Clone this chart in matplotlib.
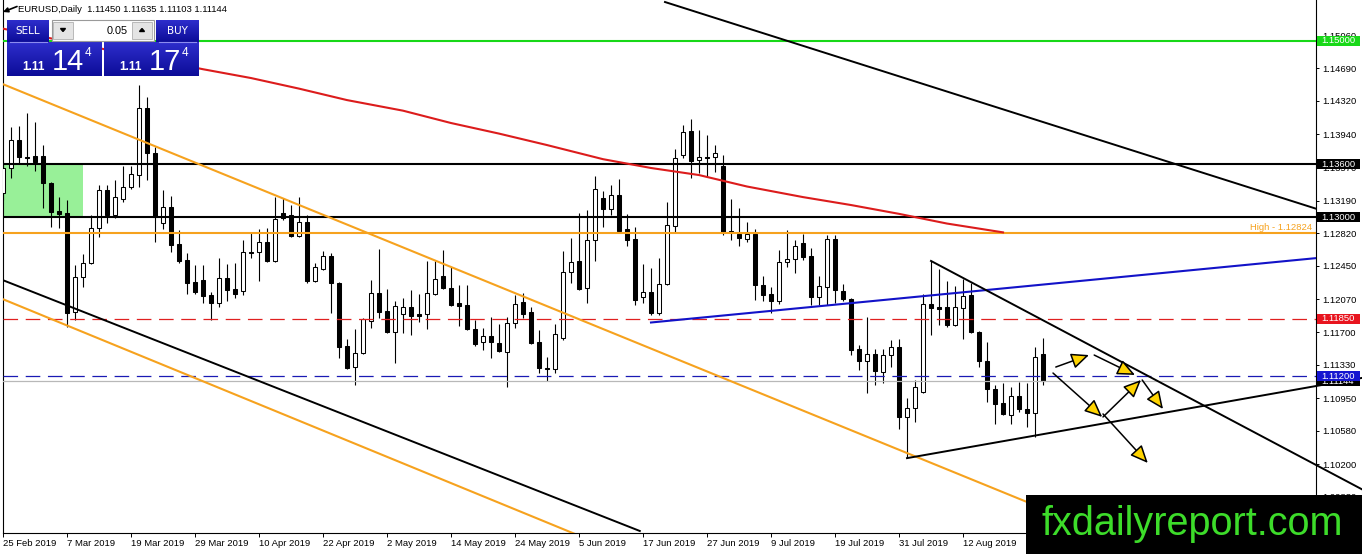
import matplotlib
matplotlib.use('Agg')
import matplotlib.pyplot as plt
from matplotlib.patches import Rectangle, Polygon, FancyArrowPatch
from matplotlib.colors import LinearSegmentedColormap
import numpy as np

plt.rcParams['lines.scale_dashes'] = False
plt.rcParams['font.family'] = ['Liberation Sans', 'DejaVu Sans']

# ---------------- data ----------------
symbol = 'EURUSD,Daily'
date_ticks = [0, 8, 16, 24, 32, 40, 48, 56, 64, 72, 80, 88, 96, 104, 112, 120]
date_labels = ['25 Feb 2019', '7 Mar 2019', '19 Mar 2019', '29 Mar 2019', '10 Apr 2019',
               '22 Apr 2019', '2 May 2019', '14 May 2019', '24 May 2019', '5 Jun 2019',
               '17 Jun 2019', '27 Jun 2019', '9 Jul 2019', '19 Jul 2019', '31 Jul 2019',
               '12 Aug 2019']

opens = [1.1328, 1.1356, 1.1388, 1.1368, 1.1370, 1.1370, 1.1339, 1.1307, 1.1305, 1.1193,
         1.1232, 1.1248, 1.1288, 1.1331, 1.1303, 1.1321, 1.1335, 1.1348, 1.1424, 1.1373,
         1.1294, 1.1312, 1.1270, 1.1252, 1.1227, 1.1229, 1.1212, 1.1203, 1.1231, 1.1219,
         1.1217, 1.1261, 1.1261, 1.1272, 1.1251, 1.1305, 1.1303, 1.1279, 1.1295, 1.1228,
         1.1242, 1.1256, 1.1226, 1.1154, 1.1130, 1.1146, 1.1182, 1.1214, 1.1194, 1.1170,
         1.1190, 1.1198, 1.1190, 1.1190, 1.1213, 1.1233, 1.1220, 1.1203, 1.1201, 1.1173,
         1.1159, 1.1166, 1.1157, 1.1147, 1.1180, 1.1204, 1.1193, 1.1159, 1.1129, 1.1128,
         1.1163, 1.1238, 1.1251, 1.1220, 1.1274, 1.1322, 1.1310, 1.1325, 1.1287, 1.1276,
         1.1210, 1.1215, 1.1192, 1.1224, 1.1290, 1.1371, 1.1398, 1.1365, 1.1368, 1.1368,
         1.1358, 1.1285, 1.1281, 1.1276, 1.1281, 1.1223, 1.1213, 1.1205, 1.1249, 1.1253,
         1.1271, 1.1256, 1.1210, 1.1221, 1.1276, 1.1217, 1.1207, 1.1151, 1.1137, 1.1145,
         1.1125, 1.1144, 1.1153, 1.1074, 1.1084, 1.1102, 1.1202, 1.1198, 1.1198, 1.1178,
         1.1197, 1.1212, 1.1170, 1.1137, 1.1105, 1.1090, 1.1076, 1.1097, 1.1083, 1.1078,
         1.11450]
highs = [1.1365, 1.1403, 1.1404, 1.1418, 1.1408, 1.1382, 1.1340, 1.1323, 1.1320, 1.1246,
         1.1259, 1.1303, 1.1337, 1.1337, 1.1342, 1.1358, 1.1358, 1.1450, 1.1437, 1.1380,
         1.1331, 1.1324, 1.1286, 1.1260, 1.1246, 1.1246, 1.1215, 1.1254, 1.1247, 1.1248,
         1.1274, 1.1282, 1.1287, 1.1288, 1.1323, 1.1322, 1.1314, 1.1323, 1.1303, 1.1248,
         1.1262, 1.1260, 1.1227, 1.1162, 1.1173, 1.1186, 1.1229, 1.1264, 1.1219, 1.1205,
         1.1209, 1.1218, 1.1213, 1.1251, 1.1251, 1.1263, 1.1244, 1.1223, 1.1223, 1.1184,
         1.1175, 1.1187, 1.1179, 1.1187, 1.1212, 1.1214, 1.1198, 1.1172, 1.1142, 1.1179,
         1.1262, 1.1277, 1.1305, 1.1308, 1.1347, 1.1330, 1.1337, 1.1344, 1.1304, 1.1289,
         1.1247, 1.1243, 1.1254, 1.1317, 1.1378, 1.1405, 1.1412, 1.1399, 1.1393, 1.1382,
         1.1371, 1.1321, 1.1311, 1.1295, 1.1287, 1.1233, 1.1221, 1.1263, 1.1286, 1.1274,
         1.1281, 1.1265, 1.1233, 1.1280, 1.1280, 1.1224, 1.1209, 1.1155, 1.1187, 1.1151,
         1.1151, 1.1161, 1.1162, 1.1095, 1.1116, 1.1213, 1.1251, 1.1242, 1.1228, 1.1222,
         1.1230, 1.1226, 1.1171, 1.1159, 1.1110, 1.1112, 1.1108, 1.1113, 1.1112, 1.1153,
         1.11635]
lows = [1.1320, 1.1345, 1.1362, 1.1358, 1.1353, 1.1311, 1.1289, 1.1288, 1.1176, 1.1184,
        1.1221, 1.1247, 1.1278, 1.1294, 1.1299, 1.1317, 1.1332, 1.1335, 1.1342, 1.1272,
        1.1287, 1.1261, 1.1248, 1.1213, 1.1213, 1.1203, 1.1184, 1.1198, 1.1205, 1.1209,
        1.1212, 1.1254, 1.1228, 1.1249, 1.1249, 1.1297, 1.1278, 1.1278, 1.1226, 1.1227,
        1.1240, 1.1192, 1.1141, 1.1128, 1.1110, 1.1145, 1.1175, 1.1186, 1.1169, 1.1135,
        1.1169, 1.1167, 1.1181, 1.1173, 1.1212, 1.1219, 1.1200, 1.1177, 1.1172, 1.1154,
        1.1150, 1.1141, 1.1147, 1.1108, 1.1175, 1.1186, 1.1156, 1.1124, 1.1114, 1.1124,
        1.1161, 1.1226, 1.1218, 1.1203, 1.1251, 1.1289, 1.1303, 1.1283, 1.1268, 1.1201,
        1.1203, 1.1189, 1.1189, 1.1223, 1.1283, 1.1367, 1.1345, 1.1350, 1.1346, 1.1351,
        1.1280, 1.1274, 1.1268, 1.1272, 1.1206, 1.1205, 1.1192, 1.1202, 1.1244, 1.1237,
        1.1252, 1.1201, 1.1201, 1.1201, 1.1203, 1.1205, 1.1144, 1.1127, 1.1101, 1.1110,
        1.1112, 1.1130, 1.1060, 1.1027, 1.1068, 1.1101, 1.1167, 1.1178, 1.1176, 1.1177,
        1.1162, 1.1169, 1.1130, 1.1091, 1.1066, 1.1076, 1.1066, 1.1079, 1.1062, 1.1051,
        1.11103]
closes = [1.1356, 1.1388, 1.1368, 1.1367, 1.1363, 1.1339, 1.1306, 1.1304, 1.1192, 1.1232,
          1.1248, 1.1288, 1.1331, 1.1303, 1.1323, 1.1335, 1.1349, 1.1424, 1.1373, 1.1300,
          1.1312, 1.1269, 1.1251, 1.1226, 1.1215, 1.1211, 1.1203, 1.1231, 1.1218, 1.1213,
          1.1261, 1.1260, 1.1272, 1.1251, 1.1298, 1.1299, 1.1279, 1.1295, 1.1228, 1.1244,
          1.1256, 1.1226, 1.1153, 1.1129, 1.1146, 1.1185, 1.1214, 1.1193, 1.1170, 1.1200,
          1.1198, 1.1188, 1.1188, 1.1214, 1.1230, 1.1220, 1.1201, 1.1200, 1.1173, 1.1156,
          1.1166, 1.1159, 1.1148, 1.1180, 1.1202, 1.1190, 1.1157, 1.1129, 1.1128, 1.1168,
          1.1238, 1.1249, 1.1219, 1.1274, 1.1332, 1.1310, 1.1325, 1.1285, 1.1274, 1.1206,
          1.1215, 1.1192, 1.1224, 1.1291, 1.1367, 1.1397, 1.1364, 1.1368, 1.1367, 1.1373,
          1.1283, 1.1283, 1.1277, 1.1281, 1.1223, 1.1212, 1.1205, 1.1249, 1.1253, 1.1268,
          1.1255, 1.1210, 1.1222, 1.1276, 1.1218, 1.1207, 1.1150, 1.1137, 1.1145, 1.1126,
          1.1144, 1.1153, 1.1074, 1.1084, 1.1108, 1.1202, 1.1197, 1.1196, 1.1178, 1.1198,
          1.1211, 1.1170, 1.1137, 1.1105, 1.1088, 1.1077, 1.1097, 1.1083, 1.1078, 1.1142,
          1.11144]

ask_price = 1.11174

# moving average (read at sampled bars)
ma_idx = [0, 25, 31, 37, 43, 50, 56, 62, 68, 75, 81, 87, 93, 100, 106, 112, 118, 125]
ma_val = [1.1514, 1.1468, 1.1458, 1.1446, 1.1433, 1.1421, 1.1407, 1.1395, 1.1382, 1.1366,
          1.1356, 1.1348, 1.1335, 1.1323, 1.1314, 1.1304, 1.1293, 1.1283]

level_green = 1.15000
level_black = [1.13600, 1.13000]
level_high = 1.12824
level_red = 1.11850
level_blue = 1.11200

price_ticks = [1.15060, 1.14690, 1.14320, 1.13940, 1.13570, 1.13190, 1.12820, 1.12450,
               1.12070, 1.11700, 1.11330, 1.10950, 1.10580, 1.10200, 1.09830]

zone_idx = [-1, 10]
zone_price = [1.1300, 1.1360]

# trend lines: (bar index pair, price pair)
line_black_top_idx = [82.75, 164.25];  line_black_top_p = [1.15442, 1.13095]
line_orange_up_idx = [-0.375, 137.5];  line_orange_up_p = [1.14524, 1.09421]
line_orange_lo_idx = [-0.375, 71.5];   line_orange_lo_p = [1.12086, 1.09410]
line_black_ch_idx = [-0.375, 79.6];    line_black_ch_p = [1.12301, 1.09444]
line_blue_idx = [81, 164.25];          line_blue_p = [1.11808, 1.12539]
tri_up_idx = [116, 169.9];             tri_up_p = [1.12506, 1.09915]
tri_lo_idx = [113, 169.9];             tri_lo_p = [1.10270, 1.11180]

arrow_x0 = [131.6, 136.4, 131.25, 137.5, 142.4, 137.5]
arrow_p0 = [1.11303, 1.11439, 1.11235, 1.10737, 1.11156, 1.10771]
arrow_x1 = [135.75, 141.5, 137.4, 142.25, 145.0, 143.1]
arrow_p1 = [1.11439, 1.11213, 1.10737, 1.11156, 1.10827, 1.10215]

# ---------------- figure ----------------
W, H = 1362, 554
fig = plt.figure(figsize=(W / 100, H / 100), dpi=100)
fig.patch.set_facecolor('white')
ax = fig.add_axes([2.5 / W, 21 / H, 1314 / W, 533 / H])
XMIN, XMAX = -0.0625, 164.1875
YMIN, YMAX = 1.094211, 1.154649
ax.set_xlim(XMIN, XMAX)
ax.set_ylim(YMIN, YMAX)
ppu = 533 / (YMAX - YMIN)

def ax_x(px):
    return (px - 2.5) / 1314

# zone
ax.add_patch(Rectangle((zone_idx[0], zone_price[0]), zone_idx[1] - zone_idx[0],
                       zone_price[1] - zone_price[0], facecolor='#98f098', edgecolor='none', zorder=1))

# candles
o = np.array(opens); c = np.array(closes); hi = np.array(highs); lo = np.array(lows)
x = np.arange(len(o))
up = c >= o
ax.vlines(x, lo, hi, color='black', lw=0.8, zorder=3)
bottom = np.minimum(o, c)
height = np.maximum(np.abs(c - o), 0.00003)
ax.bar(x, height, bottom=bottom, width=0.5, color=np.where(up, 'white', 'black'),
       edgecolor='black', linewidth=0.75, zorder=4)

# horizontal levels
ax.axhline(level_green, color='#18d818', lw=1.5, zorder=5)
for lv in level_black:
    ax.axhline(lv, color='black', lw=1.5, zorder=5)
ax.axhline(level_high, color='#f6a21e', lw=1.5, zorder=5)
ax.axhline(level_red, color='#e02020', lw=0.9, dashes=(10.5, 5.5), zorder=5)
ax.axhline(level_blue, color='#1a1ab4', lw=0.9, dashes=(10.5, 5.5), zorder=5)
ax.axhline(closes[-1], color='#b8b8b8', lw=0.9, zorder=4.5)

# MA and trend lines
ax.plot(ma_idx, ma_val, color='#dc1c1c', lw=1.5, zorder=5)
ax.plot(line_black_top_idx, line_black_top_p, color='black', lw=1.4, zorder=5)
ax.plot(line_orange_up_idx, line_orange_up_p, color='#f6a21e', lw=1.5, zorder=5)
ax.plot(line_orange_lo_idx, line_orange_lo_p, color='#f6a21e', lw=1.5, zorder=5)
ax.plot(line_black_ch_idx, line_black_ch_p, color='black', lw=1.4, zorder=5)
ax.plot(line_blue_idx, line_blue_p, color='#1212c8', lw=1.5, zorder=5)
ax.plot(tri_up_idx, tri_up_p, color='black', lw=1.4, zorder=5, clip_on=False)
ax.plot(tri_lo_idx, tri_lo_p, color='black', lw=1.4, zorder=5, clip_on=False)

for xs, ps, xe, pe in zip(arrow_x0, arrow_p0, arrow_x1, arrow_p1):
    ax.add_patch(FancyArrowPatch((xs, ps), (xe, pe),
                                 arrowstyle='-|>,head_length=0.9,head_width=0.4',
                                 mutation_scale=12, facecolor='#ffd400', edgecolor='black',
                                 lw=1.1, shrinkA=0, shrinkB=0, zorder=6))

# High label
ax.text(ax_x(1312), level_high + 0.5 / ppu, f'High - {level_high:.5f}',
        transform=ax.get_yaxis_transform(), ha='right', va='bottom',
        color='#f6a21e', fontsize=6.8, zorder=6)

# axes styling
for s in ['left', 'bottom', 'right']:
    ax.spines[s].set_linewidth(0.8)
    ax.spines[s].set_color('black')
ax.spines['top'].set_visible(False)
ax.yaxis.tick_right()
ax.set_yticks(price_ticks)
ax.set_yticklabels([f'{v:.5f}' for v in price_ticks])
ax.tick_params(axis='y', length=2.4, width=0.7, pad=2.0, labelsize=6.8, colors='black')
ax.set_xticks(date_ticks)
ax.set_xticklabels(date_labels, ha='left')
ax.tick_params(axis='x', length=2.6, width=0.7, pad=1.4, labelsize=6.8)

# price label boxes
yt = ax.get_yaxis_transform()
def price_box(val, fc, z, tc='white'):
    hh = 5 / ppu
    ax.add_patch(Rectangle((ax_x(1317), val - hh), ax_x(1360) - ax_x(1317), 2 * hh,
                           transform=yt, facecolor=fc, edgecolor='none', clip_on=False, zorder=z))
    ax.text(ax_x(1321.5), val, f'{val:.5f}', transform=yt, color=tc, fontsize=6.8,
            va='center', ha='left', zorder=z + 0.1, clip_on=False)

price_box(level_green, '#18d818', 7)
price_box(level_black[0], 'black', 7)
price_box(level_black[1], 'black', 7)
price_box(level_red, '#e8141e', 7)
price_box(closes[-1], 'black', 7)
price_box(level_blue, '#1515d0', 8)

# ---------------- overlay (panel, header, watermark) ----------------
ov = fig.add_axes([0, 0, 1, 1], zorder=10)
ov.patch.set_alpha(0)
ov.axis('off')

blue_cmap = LinearSegmentedColormap.from_list('b', ['#2e2ecc', '#0c0c98'])
def grad_rect(x0, y0, x1, y1):
    g = np.linspace(0, 1, 64).reshape(-1, 1)
    ov.imshow(g, extent=(x0, x1, y1, y0), cmap=blue_cmap, aspect='auto',
              origin='upper', interpolation='bilinear', zorder=1)

grad_rect(7, 20, 49, 42)
grad_rect(7, 42, 101.5, 76)
grad_rect(156, 20, 199, 42)
grad_rect(104, 42, 199, 76)
ov.plot([10, 47], [42.3, 42.3], color='#8c8cf0', lw=0.8, zorder=2)
ov.plot([159, 196], [42.3, 42.3], color='#8c8cf0', lw=0.8, zorder=2)

ov.add_patch(Rectangle((51.5, 20), 102, 20.5, facecolor='white', edgecolor='#9a9a9a', lw=0.8, zorder=2))
ov.add_patch(Rectangle((53, 21.5), 20, 17.5, facecolor='#e4e4e4', edgecolor='#b0b0b0', lw=0.6, zorder=3))
ov.add_patch(Rectangle((132, 21.5), 20, 17.5, facecolor='#e4e4e4', edgecolor='#b0b0b0', lw=0.6, zorder=3))
ov.add_patch(Polygon([(60.5, 28.5), (65.5, 28.5), (63, 31.5)], closed=True, color='black', zorder=4))
ov.add_patch(Polygon([(139.5, 31.5), (144.5, 31.5), (142, 28.5)], closed=True, color='black', zorder=4))
ov.text(128, 30.5, '0.05', ha='right', va='center', fontsize=7.8, color='black', zorder=4)

ov.text(28, 31, 'SELL', ha='center', va='center', fontsize=7.5, color='white',
        family='DejaVu Sans', zorder=4)
ov.text(177.5, 31, 'BUY', ha='center', va='center', fontsize=7.5, color='white',
        family='DejaVu Sans', zorder=4)

def price_parts(v):
    s = f'{v:.5f}'
    return s[:4], s[4:6], s[6]

for val, bx in [(closes[-1], 7), (ask_price, 104)]:
    a, b, cc = price_parts(val)
    ov.text(bx + 15, 70.5, a, ha='left', va='baseline', fontsize=8.5, fontweight='bold',
            color='white', zorder=4)
    ov.text(bx + 45, 70.5, b, ha='left', va='baseline', fontsize=21, color='white', zorder=4)
    ov.text(bx + 78, 46.5, cc, ha='left', va='top', fontsize=8.5, color='white', zorder=4)

# header
ov.annotate('', xy=(3, 12), xytext=(17, 6.5),
            arrowprops=dict(arrowstyle='-|>', color='black', lw=1.2, mutation_scale=7,
                            shrinkA=0, shrinkB=0))
ov.text(18, 10, f'{symbol}  {opens[-1]:.5f} {highs[-1]:.5f} {lows[-1]:.5f} {closes[-1]:.5f}',
        ha='left', va='center', fontsize=6.8, color='black', zorder=4)

# watermark
ov.add_patch(Rectangle((1026, 495), 336, 59, facecolor='black', edgecolor='none', zorder=5))
ov.text(1042, 535, 'fxdailyreport.com', ha='left', va='baseline', fontsize=28.5,
        color='#3ddc2a', zorder=6)

ov.set_xlim(0, W)
ov.set_ylim(H, 0)

fig.savefig('out.png', dpi=100)
